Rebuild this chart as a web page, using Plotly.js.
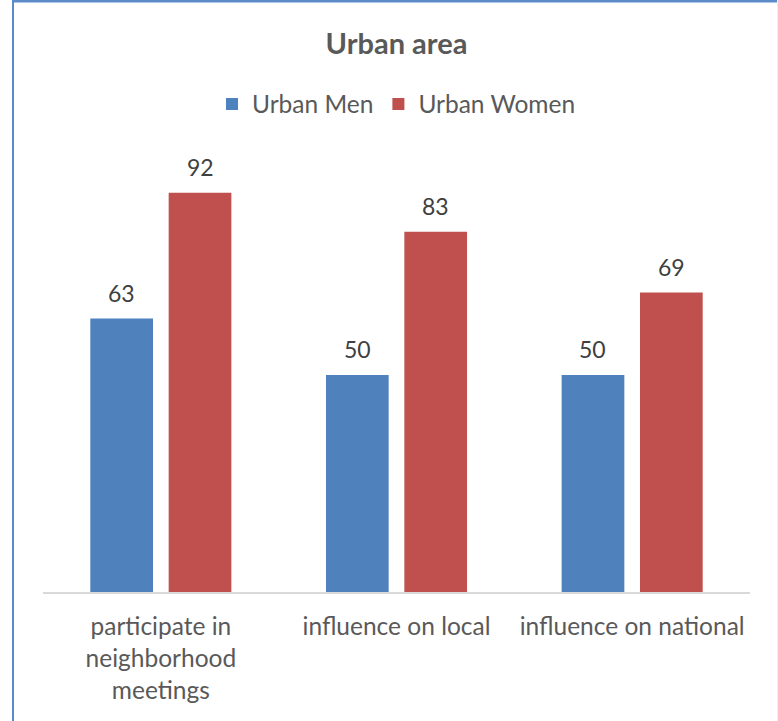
<!DOCTYPE html>
<html>
<head>
<meta charset="utf-8">
<script src="https://cdn.plot.ly/plotly-3.0.1.min.js"></script>
<style>
  html, body { margin: 0; padding: 0; background: #ffffff; }
  #chart { width: 778px; height: 721px; }
</style>
</head>
<body>
<div id="chart"></div>
<script>
const categories = ["participate in<br>neighborhood<br>meetings", "influence on local", "influence on national"];
const seriesNames = ["Urban Men", "Urban Women"];
const menValues = [63, 50, 50];
const womenValues = [92, 83, 69];
const seriesColors = ["#4F81BD", "#C0504D"];

const W = 778, H = 721;
const M = { l: 43, r: 28, t: 158, b: 129 };
const PW = W - M.l - M.r, PH = H - M.t - M.b;
const px2x = p => (p - M.l) / PW;
const py2y = p => (H - M.b - p) / PH;

const FONT = "Lato, 'Liberation Sans', sans-serif";

const traces = [menValues, womenValues].map((vals, i) => ({
  type: "bar",
  name: seriesNames[i],
  x: categories,
  y: vals,
  marker: { color: seriesColors[i], line: { width: 0 } },
  hoverinfo: "x+y+name"
}));

const annotations = [];
[menValues, womenValues].forEach((vals, i) => {
  vals.forEach((v, j) => {
    annotations.push({
      x: categories[j], y: v, xref: "x", yref: "y",
      text: String(v), showarrow: false,
      xshift: i === 0 ? -39.3 : 39.3, yshift: 26,
      yanchor: "middle", xanchor: "center",
      font: { family: FONT, size: 23, color: "#404040" }
    });
  });
});

const layout = {
  width: W, height: H,
  margin: M,
  paper_bgcolor: "#ffffff",
  plot_bgcolor: "#ffffff",
  title: {
    text: "<b>Urban area</b>",
    font: { family: FONT, size: 29, color: "#595959" },
    x: 0.5, xref: "paper", xanchor: "center",
    y: 1 - 44 / H, yref: "container", yanchor: "middle"
  },
  showlegend: true,
  legend: {
    orientation: "h",
    x: 0.5, xanchor: "center", xref: "paper",
    y: py2y(104), yanchor: "middle",
    font: { family: FONT, size: 24.5, color: "#595959" },
    traceorder: "normal"
  },
  barmode: "group",
  bargap: 0.335,
  bargroupgap: 0.2,
  xaxis: {
    showline: true, linecolor: "#D9D9D9", linewidth: 2,
    ticks: "", showgrid: false, zeroline: false,
    tickfont: { family: FONT, size: 24.5, color: "#595959" },
    ticklabelstandoff: 12,
    fixedrange: true
  },
  yaxis: {
    range: [0, 100],
    showticklabels: false, showgrid: false, zeroline: false, showline: false,
    fixedrange: true
  },
  annotations: annotations,
  shapes: [
    { type: "line", xref: "paper", yref: "paper",
      x0: px2x(13), x1: px2x(13), y0: py2y(0), y1: py2y(H),
      line: { color: "#5B8BC9", width: 2 } },
    { type: "line", xref: "paper", yref: "paper",
      x0: px2x(12), x1: px2x(778), y0: py2y(1.2), y1: py2y(1.2),
      line: { color: "#5B8BC9", width: 2.5 } },
    { type: "line", xref: "paper", yref: "paper",
      x0: px2x(777.5), x1: px2x(777.5), y0: py2y(0), y1: py2y(H),
      line: { color: "#EEEEEE", width: 1 } }
  ]
};

Plotly.newPlot("chart", traces, layout, { displayModeBar: false, staticPlot: true });
</script>
</body>
</html>
